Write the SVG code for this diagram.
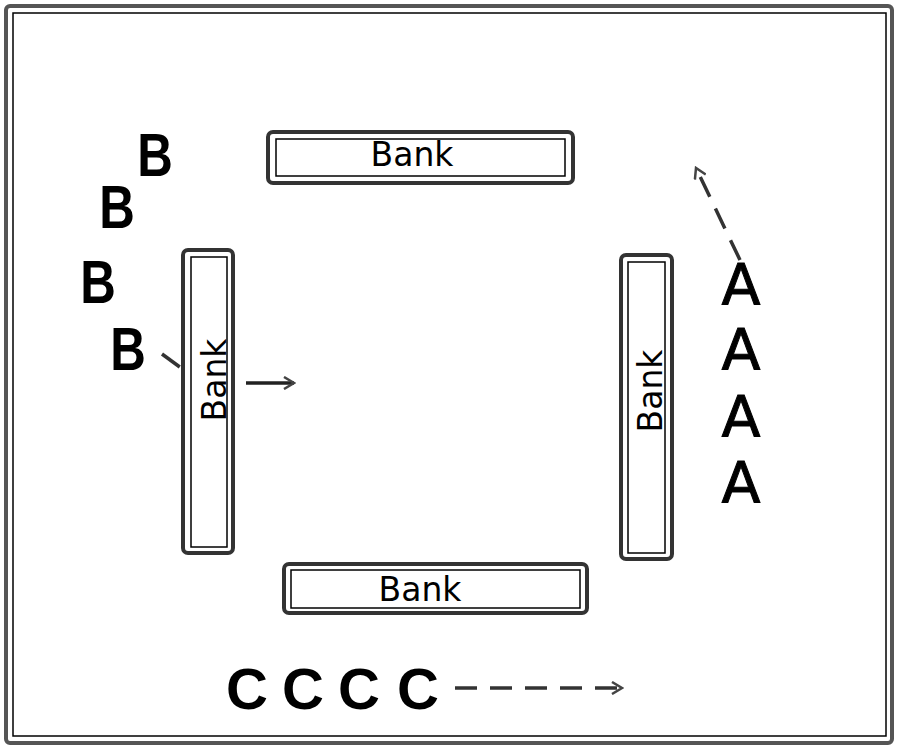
<svg xmlns="http://www.w3.org/2000/svg" width="900" height="748" viewBox="0 0 900 748">
<style>
.frame{fill:none;stroke:#555;stroke-width:4}
.thin{fill:none;stroke:#000;stroke-width:1.5}
.bank{fill:none;stroke:#333;stroke-width:4}
.bt{font-family:"DejaVu Sans",sans-serif;font-size:33px;fill:#000;text-anchor:middle}
.lb{font-family:"Liberation Sans",Arial,sans-serif;font-weight:bold;font-size:58px;fill:#000;text-anchor:middle}
.la{font-family:"DejaVu Sans",sans-serif;font-size:57px;fill:#000;stroke:#000;stroke-width:1;text-anchor:middle}
.dash{fill:none;stroke:#333;stroke-width:3.5;stroke-dasharray:22 13}
.solid{fill:none;stroke:#222;stroke-width:3.5}
</style>
<defs>
<marker id="arr" markerWidth="14" markerHeight="14" refX="12" refY="7" orient="auto" markerUnits="userSpaceOnUse">
<path d="M2,1 L12,7 L2,13" fill="none" stroke="#444" stroke-width="2.5"/>
</marker>
</defs>
<rect width="900" height="748" fill="#fff"/>
<g id="frame">
<rect x="6" y="6" width="886" height="737" rx="4" class="frame"/>
<rect x="13" y="13" width="873" height="723" class="thin"/>
</g>
<g id="bank-top">
<rect x="268" y="132" width="305" height="51" rx="5" class="bank"/>
<rect x="276" y="139" width="289" height="37" class="thin"/>
<text x="412" y="166" class="bt">Bank</text>
</g>
<g id="bank-bottom">
<rect x="284" y="564" width="303" height="49" rx="5" class="bank"/>
<rect x="291" y="570" width="289" height="38" class="thin"/>
<text x="420" y="601" class="bt">Bank</text>
</g>
<g id="bank-left">
<rect x="183" y="250" width="50" height="303" rx="5" class="bank"/>
<rect x="191" y="257" width="36" height="290" class="thin"/>
<text transform="translate(226,380) rotate(-90)" class="bt">Bank</text>
</g>
<g id="bank-right">
<rect x="621" y="255" width="51" height="304" rx="5" class="bank"/>
<rect x="628" y="262" width="37" height="291" class="thin"/>
<text transform="translate(662,391) rotate(-90)" class="bt">Bank</text>
</g>
<g id="letters-b">
<text transform="translate(155,176) scale(0.85,1.05)" class="lb">B</text>
<text transform="translate(117,228) scale(0.85,1.05)" class="lb">B</text>
<text transform="translate(98,303) scale(0.85,1.05)" class="lb">B</text>
<text transform="translate(128,370) scale(0.85,1.05)" class="lb">B</text>
</g>
<g id="letters-a">
<text x="741" y="305" class="la">A</text>
<text x="741" y="370" class="la">A</text>
<text x="741" y="437" class="la">A</text>
<text x="741" y="503" class="la">A</text>
</g>
<g id="letters-c">
<text x="247" y="709" class="lb">C</text>
<text x="303" y="709" class="lb">C</text>
<text x="359" y="709" class="lb">C</text>
<text x="418" y="709" class="lb">C</text>
</g>
<g id="connectors">
<path d="M740,260 L696,168" class="dash" marker-end="url(#arr)"/>
<path d="M455,688 L622,688" class="dash" marker-end="url(#arr)"/>
<path d="M162,354 L188,373" class="dash" stroke-dasharray="10 8"/>
<path d="M246,383 L294,383" class="solid" marker-end="url(#arr)"/>
</g>
</svg>
